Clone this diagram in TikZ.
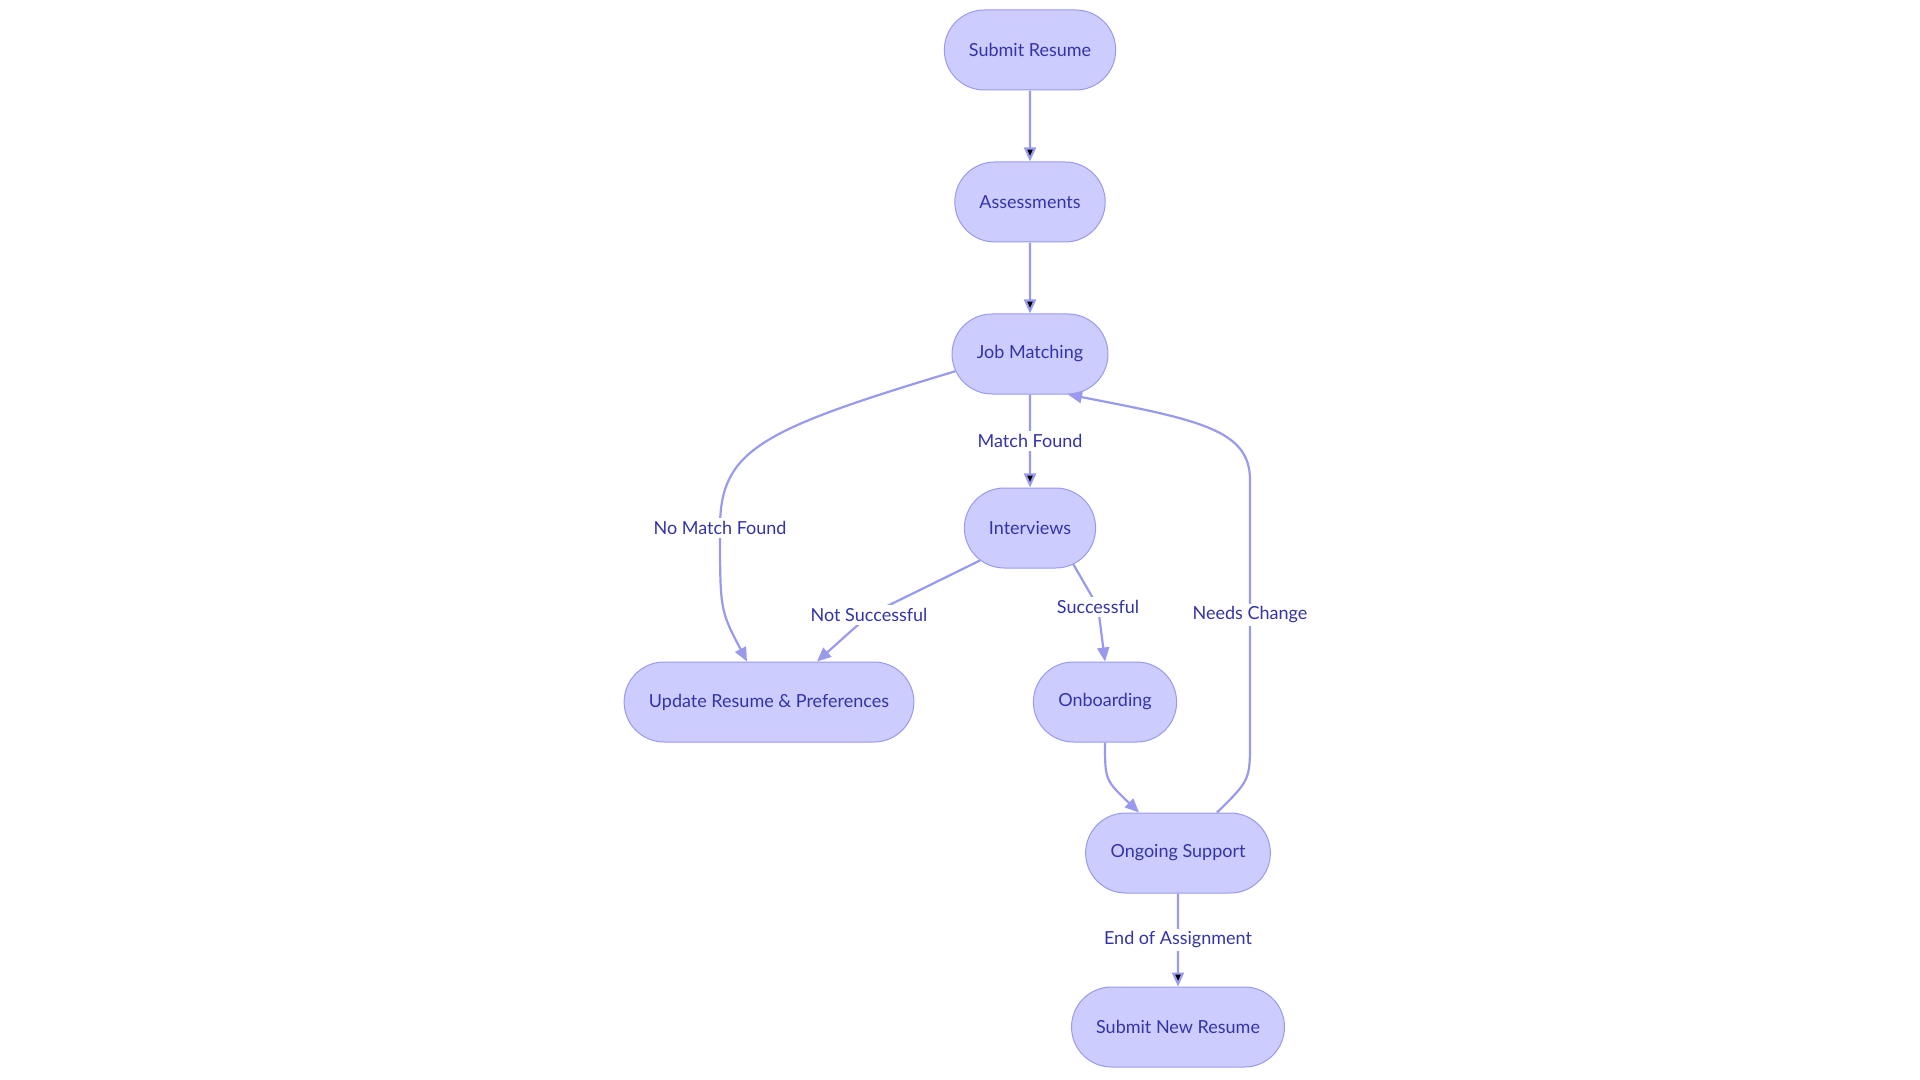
\documentclass[tikz,border=0pt]{standalone}
\usepackage{fontspec}
\setmainfont{Lato}
\usetikzlibrary{arrows.meta,positioning,shapes.misc}
\definecolor{boxfill}{HTML}{CCCCFF}
\definecolor{boxline}{HTML}{9999EE}
\definecolor{txt}{HTML}{3434A8}

\begin{document}
\begin{tikzpicture}[x=0.5pt,y=-0.5pt,>={Triangle[length=7pt,width=6pt]},
    stage/.style={rounded rectangle,draw=boxline,fill=boxfill,text=txt,font=\fontsize{9}{11}\selectfont,minimum height=40pt,inner xsep=12pt,line width=0.5pt},
    lbl/.style={fill=white,text=txt,font=\fontsize{9}{11}\selectfont,inner sep=1.5pt},
    flow/.style={->,draw=boxline,line width=1.1pt}]
      \useasboundingbox (0,0) rectangle (1920,1080);
      \node[stage] (sub) at (1030,50) {Submit Resume};
      \node[stage] (ass) at (1030,202) {Assessments};
      \node[stage] (job) at (1030,354) {Job Matching};
      \node[stage] (int) at (1030,528) {Interviews};
      \node[stage] (upd) at (769,702) {Update Resume \& Preferences};
      \node[stage] (onb) at (1105,702) {Onboarding};
      \node[stage] (ong) at (1178,853) {Ongoing Support};
      \node[stage] (new) at (1178,1027) {Submit New Resume};

      \path[flow]
      (sub) edge (ass)
      (ass) edge (job)
      (job) edge node[lbl] {Match Found} (int)
      (ong) edge node[lbl] {End of Assignment} (new)
      ;
      \draw[flow] (job.193) .. controls (760,430) and (720,450) .. (720,528)
        node[lbl] {No Match Found} .. controls (720,610) .. (upd.north west -| 747,0);
      \draw[flow] (int.213) -- (869,615) node[lbl] {Not Successful} -- (upd.north -| 817,0);
      \draw[flow] (int.320) -- (1098,607) node[lbl] {Successful} -- (onb.north);
      \draw[flow] (onb.south) .. controls (1105,780) .. (ong.north -| 1139,0);
      \draw[flow] (ong.north -| 1217,0) .. controls (1250,780) .. (1250,740)
        -- (1250,615) node[lbl] {Needs Change} -- (1250,480)
        .. controls (1250,430) and (1200,420) .. (job.south east);
\end{tikzpicture}
\end{document}
